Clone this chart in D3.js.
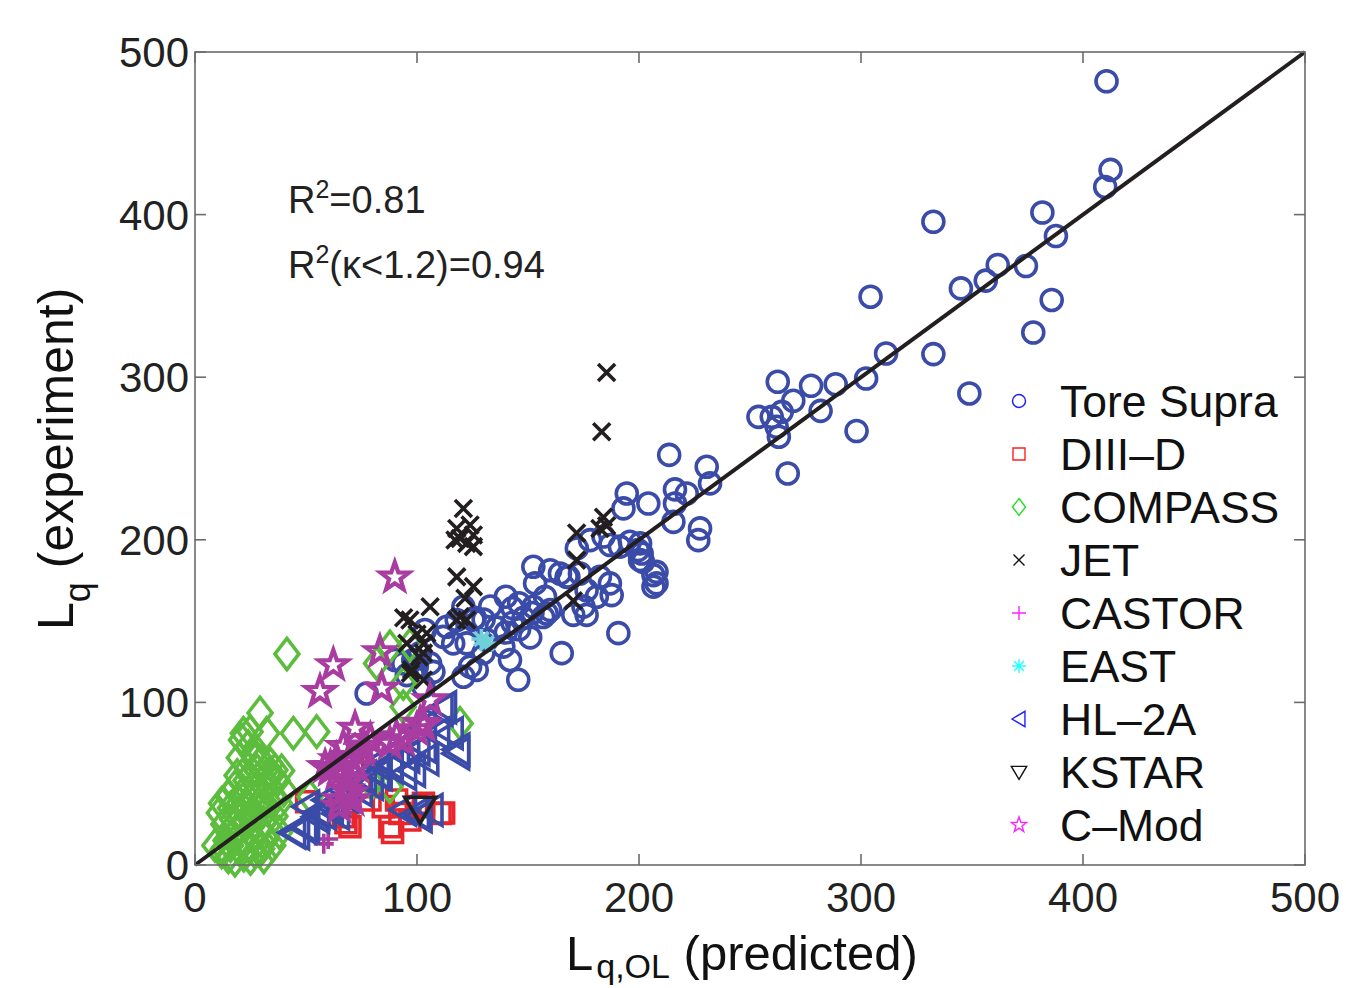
<!DOCTYPE html>
<html>
<head>
<meta charset="utf-8">
<script src="https://cdn.jsdelivr.net/npm/d3@7"></script>
<style>
  body { margin: 0; background: #fff; }
  svg { display: block; font-family: "Liberation Sans", Arial, sans-serif; }
</style>
</head>
<body>
<div id="chart"></div>
<script>
// values: [predicted, experiment]
const toreSupra = [
  [410.6,482],[412.4,427.5],[410,417],[332.6,395.6],[381.7,401.3],[387.8,386.8],[374.3,368.4],
  [361.6,369],[356.2,359.4],[345,354.6],[385.9,347.5],[377.6,327.5],[304.3,349.5],[311.3,314.6],
  [332.6,314.2],[348.8,290],[302.3,299.2],[288.6,295.7],[277.5,294.7],[262.5,297.2],[269.5,285.5],
  [281.8,279.3],[253.8,275.6],[259.8,275.6],[264.3,278.7],[262,269.5],[263,263.4],[298,266.9],
  [267,240.8],[230.5,244.9],[232,234.7],[213.6,252.2],[194.5,228.5],[193,219.3],[204.2,222.3],
  [216.2,231],[216.2,222.3],[221.5,228.5],[215.5,211],[227.5,207],[226.7,199.8],[178,199.8],
  [184,202],[187,196.8],[191.4,195.8],[172,194.7],[200.5,197.8],[201.2,191.6],[200.5,187.5],
  [167.4,177.2],[160,181.3],[182.4,177.2],[206.5,178.3],[206.5,171.2],[187.7,166],[175,158.9],
  [176.4,153.8],[170.4,153.8],[160,156.8],[156.8,152.5],[190.7,142.6],[152.4,183.4],[153.2,173.2],
  [164.4,179.3],[168.2,177.2],[173.4,179.3],[195.9,198.8],[199.5,193.7],[201.8,186.5],[207.9,180.3],
  [207.9,173.2],[176.4,169],[181,165],[186.9,173.2],[165.2,130.3],[157.7,165],[158.4,154.7],
  [152.4,158.8],[145.6,113.9],[138.9,134.3],[141.9,126.1],[131.4,138.4],[129.9,130.3],[120.9,158.8],
  [117.9,150.7],[113.4,146.5],[111.8,140.3],[116.3,136.3],[122.4,136.3],[123.9,122],[120.9,115.8],
  [105.9,124],[107.4,118.8],[98.3,126.1],[101.4,130.3],[90.1,126.1],[95.4,116.8],[77.3,105.5],
  [93.8,124],[99.9,121.9],[102.9,109.7],[126.9,120],[125.4,150.7],[103.6,144.5],
  [143,158],[148,152],[143,149],[146,145],[151,140],[140,143],[136,146],[130,151],[126,152],
  [133,159],[140,165],[146,161],[152,155]
];
const diiid = [
  [50.3,38.9],[66.8,29.7],[69.8,23.5],[78.8,40],[84.8,35.9],[87.8,23.5],[92.3,31.7],[96.8,27.7],
  [99.8,35.9],[110.4,31.7],[90.8,40],[74.3,48.1],[102.9,37.9],[68,26],[89,20],[112,32],[71,60]
];
const compass = [
  [12,8],[15,5],[18,3],[20,10],[14,15],[17,18],[22,6],[25,4],[27,8],[24,12],[19,22],[22,25],
  [26,18],[28,14],[30,10],[32,16],[29,22],[25,28],[21,30],[17,28],[13,25],[11,32],[16,35],[20,38],
  [24,35],[28,30],[31,26],[34,22],[36,30],[33,35],[30,40],[26,42],[22,45],[18,48],[23,52],[27,50],
  [31,48],[35,42],[38,38],[40,46],[37,52],[33,56],[28,58],[24,60],[30,64],[26,68],[20,66],[34,62],
  [39,58],[15,42],[12,38],[19,55],[9,12],[13,10],[16,12],[35,12],[38,20],[31,5],[21,15],[29,34],
  [29.3,93.5],[21.8,81],[24.8,82],[32.3,81],[44.3,81],[54.8,82],[21,76.9],[24,72.8],[27,64.6],
  [36,58.4],[41.4,129.8],[87.8,134.2],[81.8,124],[93.8,111.6],[93.8,97.3],[119.4,87.1],
  [79.6,50.2],[87.8,48.1],[51.8,42],[96.8,135.3]
];
const jet = [
  [120.9,219.3],[117.9,207],[123.9,209.1],[119.4,200.8],[125.4,202.9],[117.1,199.9],[122.4,197.8],
  [125.4,195.8],[117.9,177.2],[125.4,171.2],[121.6,164],[119.4,152.7],[117.9,150.7],[122.4,150.7],
  [105.9,158.8],[96.8,150.7],[104.4,142.5],[95.4,136.3],[102.9,130.3],[97.6,120],[102.9,113.8],
  [171.9,204.2],[171.9,187.5],[184,213.9],[185.4,208.7],[182.4,207],[170.4,162.5],[185.4,302.9],
  [183.2,266.5],[94,152],[100,142],[103,136],[101,128],[97,118]
];
const castor = [[58,13],[60,16]];
const east = [[131.4,136.3],[129,139]];
const hl2a = [
  [45.8,19.4],[50.3,23.5],[54.8,29.7],[57.8,31.7],[59.3,40],[66.8,46.1],[75.8,54.2],[81.8,62.5],
  [87.8,62.5],[95.4,66.6],[102.9,72.8],[108.9,80.9],[110.4,95.3],[117.9,68.6],[102.9,85],[90.8,70.7],
  [99.8,31.7],[105.9,33.8],[81.8,56.3],[72.8,64.6],[63.8,31.7],[50.3,35.9],[112,97],[115,81],
  [118,71],[100,71],[104,65],[98,58],[94,56],[88,60],[83,56],[79,50],[74,46],[68,42],[61,36],
  [55,32],[49,23],[44,20],[101,30],[94,34]
];
const kstar = [[101.4,34.8]];
const cmod = [
  [62.3,123],[56.3,106.6],[83.3,131.1],[84.1,108.6],[72.1,84],[105.9,101.5],[90.8,78.8],[87.8,74.7],
  [93.8,76.9],[99.8,83],[66.8,72.8],[69.8,66.6],[72.8,60.4],[63.8,64.6],[60.8,58.4],[68.3,52.3],
  [75.8,70.7],[65.3,40],[69.8,44],[58.6,60.4],[101.4,87.1],[90,177],[103,86],[61,60],[64,56],
  [70,52],[68,46],[71,40],[65,36],[76,73],[79,77]
];
const seriesNames = ["Tore Supra","DIII\u2013D","COMPASS","JET","CASTOR","EAST","HL\u20132A","KSTAR","C\u2013Mod"];
const xTicks = [0,100,200,300,400,500];
const yTicks = [0,100,200,300,400,500];

// marker shapes, s = half size
function shape(kind, s) {
  const p = d3.path();
  if (kind === "circle") { p.arc(0,0,s,0,2*Math.PI); }
  else if (kind === "square") { p.rect(-s,-s,2*s,2*s); }
  else if (kind === "diamond") { p.moveTo(0,-s*1.3); p.lineTo(s,0); p.lineTo(0,s*1.3); p.lineTo(-s,0); p.closePath(); }
  else if (kind === "x") { p.moveTo(-s,-s); p.lineTo(s,s); p.moveTo(-s,s); p.lineTo(s,-s); }
  else if (kind === "plus") { p.moveTo(-s,0); p.lineTo(s,0); p.moveTo(0,-s); p.lineTo(0,s); }
  else if (kind === "asterisk") {
    for (let i = 0; i < 4; i++) { const a = i*Math.PI/4; p.moveTo(-s*Math.cos(a),-s*Math.sin(a)); p.lineTo(s*Math.cos(a),s*Math.sin(a)); }
  }
  else if (kind === "left") { p.moveTo(-s,0); p.lineTo(s*0.85,-s*1.1); p.lineTo(s*0.85,s*1.1); p.closePath(); }
  else if (kind === "down") { p.moveTo(-s*1.1,-s*0.8); p.lineTo(s*1.1,-s*0.8); p.lineTo(0,s*1.05); p.closePath(); }
  else if (kind === "star") {
    for (let i = 0; i < 10; i++) {
      const r = i % 2 ? s*0.4 : s;
      const a = -Math.PI/2 + i*Math.PI/5;
      if (i === 0) p.moveTo(r*Math.cos(a), r*Math.sin(a)); else p.lineTo(r*Math.cos(a), r*Math.sin(a));
    }
    p.closePath();
  }
  return p.toString();
}

const series = [
  { data: toreSupra, kind: "circle",   size: 10.5, color: "#3a4ba8", legend: "#1a1aff", ls: 6.5 },
  { data: diiid,     kind: "square",   size: 10,   color: "#e8262c", legend: "#ff2020", ls: 6 },
  { data: compass,   kind: "diamond",  size: 12,   color: "#5cbd3c", legend: "#22dd22", ls: 6.5 },
  { data: jet,       kind: "x",        size: 8.5,  color: "#231f20", legend: "#111111", ls: 5.5 },
  { data: castor,    kind: "plus",     size: 10,   color: "#a93ca0", legend: "#ff22ff", ls: 7 },
  { data: east,      kind: "asterisk", size: 10,   color: "#6fd0da", legend: "#22ffff", ls: 7 },
  { data: hl2a,      kind: "left",     size: 14,   color: "#3a4ba8", legend: "#2222ff", ls: 7 },
  { data: kstar,     kind: "down",     size: 14,   color: "#231f20", legend: "#111111", ls: 7 },
  { data: cmod,      kind: "star",     size: 15,   color: "#a93ca0", legend: "#ff22ff", ls: 8 }
];

const width = 1346, height = 988;
const plotLeft = 195, plotRight = 1305, plotTop = 52, plotBottom = 865;

const x = d3.scaleLinear().domain([0,500]).range([plotLeft,plotRight]);
const y = d3.scaleLinear().domain([0,500]).range([plotBottom,plotTop]);

const svg = d3.select("#chart").append("svg")
  .attr("width", width)
  .attr("height", height);

// markers
series.forEach(s => {
  svg.append("g").selectAll("path")
    .data(s.data)
    .join("path")
    .attr("transform", d => `translate(${x(d[0])},${y(d[1])})`)
    .attr("d", shape(s.kind, s.size))
    .attr("fill", "none")
    .attr("stroke", s.color)
    .attr("stroke-width", s.kind === "star" ? 4.2 : 3.6)
    .attr("stroke-linejoin", "miter");
});

// 1:1 line
svg.append("line")
  .attr("x1", x(0)).attr("y1", y(0))
  .attr("x2", x(500)).attr("y2", y(500))
  .attr("stroke", "#231f20")
  .attr("stroke-width", 4);

// frame and ticks
svg.append("rect")
  .attr("x", plotLeft).attr("y", plotTop)
  .attr("width", plotRight - plotLeft).attr("height", plotBottom - plotTop)
  .attr("fill", "none")
  .attr("stroke", "#6b6b6b")
  .attr("stroke-width", 1.6);

const tickLen = 11;
xTicks.forEach(t => {
  svg.append("line").attr("x1", x(t)).attr("x2", x(t)).attr("y1", plotBottom).attr("y2", plotBottom - tickLen)
    .attr("stroke", "#6b6b6b").attr("stroke-width", 1.6);
  svg.append("line").attr("x1", x(t)).attr("x2", x(t)).attr("y1", plotTop).attr("y2", plotTop + tickLen)
    .attr("stroke", "#6b6b6b").attr("stroke-width", 1.6);
  svg.append("text")
    .attr("x", x(t)).attr("y", 912)
    .attr("text-anchor", "middle")
    .attr("font-size", "42px")
    .attr("fill", "#222")
    .text(t);
});
yTicks.forEach(t => {
  svg.append("line").attr("x1", plotLeft).attr("x2", plotLeft + tickLen).attr("y1", y(t)).attr("y2", y(t))
    .attr("stroke", "#6b6b6b").attr("stroke-width", 1.6);
  svg.append("line").attr("x1", plotRight).attr("x2", plotRight - tickLen).attr("y1", y(t)).attr("y2", y(t))
    .attr("stroke", "#6b6b6b").attr("stroke-width", 1.6);
  svg.append("text")
    .attr("x", 189).attr("y", y(t) + 15)
    .attr("text-anchor", "end")
    .attr("font-size", "42px")
    .attr("fill", "#222")
    .text(t);
});

// R^2 annotations
const r1 = svg.append("text").attr("x", 288).attr("y", 213).attr("font-size", "38px").attr("fill", "#222");
r1.append("tspan").text("R");
r1.append("tspan").attr("dy", -15).attr("font-size", "25px").text("2");
r1.append("tspan").attr("dy", 15).text("=0.81");
const r2 = svg.append("text").attr("x", 288).attr("y", 278).attr("font-size", "38px").attr("fill", "#222");
r2.append("tspan").text("R");
r2.append("tspan").attr("dy", -15).attr("font-size", "25px").text("2");
r2.append("tspan").attr("dy", 15).text("(\u03ba<1.2)=0.94");

// axis labels
const xl = svg.append("text").attr("x", 566).attr("y", 970).attr("font-size", "49px").attr("fill", "#111");
xl.append("tspan").text("L");
xl.append("tspan").attr("dy", 8).attr("font-size", "34px").attr("dx", 3).text("q,OL");
xl.append("tspan").attr("dy", -8).text("  (predicted)");

const yl = svg.append("text")
  .attr("transform", "translate(73,630) rotate(-90)")
  .attr("font-size", "50px").attr("fill", "#111");
yl.append("tspan").text("L");
yl.append("tspan").attr("dy", 17).attr("font-size", "36px").text("q");
yl.append("tspan").attr("dy", -17).text(" (experiment)");

// legend
const lg = svg.append("g");
series.forEach((s, i) => {
  const cy = 401 + i * 53;
  lg.append("path")
    .attr("transform", `translate(1019,${cy})`)
    .attr("d", shape(s.kind, s.ls))
    .attr("fill", "none")
    .attr("stroke", s.legend)
    .attr("stroke-width", 1.4);
  lg.append("text")
    .attr("x", 1060).attr("y", cy + 16)
    .attr("font-size", "44.5px")
    .attr("fill", "#111")
    .text(seriesNames[i]);
});
</script>
</body>
</html>
